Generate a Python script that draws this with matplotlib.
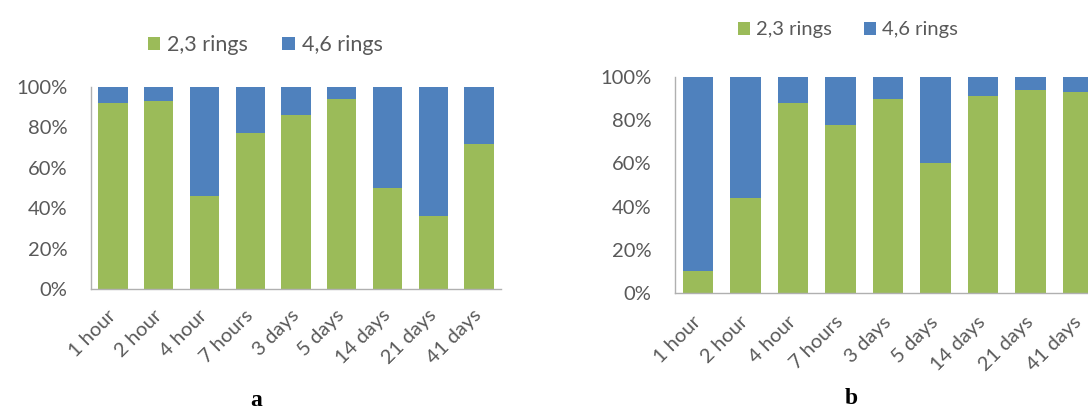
import numpy as np
import matplotlib.pyplot as plt
from matplotlib.patches import Patch
from matplotlib.ticker import FuncFormatter

plt.rcParams['font.family'] = ['Lato', 'DejaVu Sans']

labels = ['1 hour', '2 hour', '4 hour', '7 hours', '3 days', '5 days', '14 days', '21 days', '41 days']
series = ['2,3 rings', '4,6 rings']

# share of 2,3-ring compounds (%), the rest are 4,6 rings
green_a = [92, 93, 46, 77, 86, 94, 50, 36, 72]
green_b = [10, 44, 88, 78, 90, 60, 91, 94, 93]

GREEN = '#9bbb59'
BLUE = '#4f81bd'
GREY = '#595959'

W, H = 1088, 412
fig = plt.figure(figsize=(W / 100, H / 100), dpi=100)


def px_axes(x0, x1, ytop, ybot):
    return fig.add_axes([x0 / W, (H - ybot) / H, (x1 - x0) / W, (ybot - ytop) / H])


def stacked(ax, green, xpad):
    x = np.arange(len(labels))
    g = np.array(green, dtype=float)
    ax.bar(x, g, width=0.64, color=GREEN, linewidth=0)
    ax.bar(x, 100 - g, bottom=g, width=0.64, color=BLUE, linewidth=0)
    ax.set_xlim(-0.48, len(labels) - 0.52)
    ax.set_ylim(0, 100)
    ax.set_yticks(np.arange(0, 101, 20))
    ax.yaxis.set_major_formatter(FuncFormatter(lambda v, p: f'{int(v)}%'))
    ax.set_xticks(x)
    ax.set_xticklabels(labels, rotation=45, ha='right', va='center', rotation_mode='anchor')
    ax.tick_params(axis='y', length=0, pad=17, labelsize=14.5, labelcolor=GREY)
    ax.tick_params(axis='x', length=0, pad=xpad, labelsize=14.5, labelcolor=GREY)
    for s in ['top', 'right']:
        ax.spines[s].set_visible(False)
    for s in ['left', 'bottom']:
        ax.spines[s].set_color('#b0b0b0')
        ax.spines[s].set_linewidth(1)


def legend(cx, cy, size):
    handles = [Patch(facecolor=GREEN, label=series[0]), Patch(facecolor=BLUE, label=series[1])]
    fig.legend(handles=handles, loc='center', bbox_to_anchor=(cx / W, 1 - cy / H), ncol=2,
               frameon=False, fontsize=size, labelcolor=GREY, handlelength=0.6, handleheight=0.6,
               handletextpad=0.3, columnspacing=1.6)


ax_a = px_axes(91, 501, 87, 289)
stacked(ax_a, green_a, 17)
legend(265, 45, 15.5)

ax_b = px_axes(675, 1101, 77, 293)
stacked(ax_b, green_b, 19)
legend(848, 30, 14.5)

fig.text(256 / W, 1 - 401 / H, 'a', ha='center', va='center', family='Liberation Serif',
         fontweight='bold', fontsize=17)
fig.text(851 / W, 1 - 398 / H, 'b', ha='center', va='center', family='Liberation Serif',
         fontweight='bold', fontsize=17)

fig.savefig('out.png', dpi=100)
